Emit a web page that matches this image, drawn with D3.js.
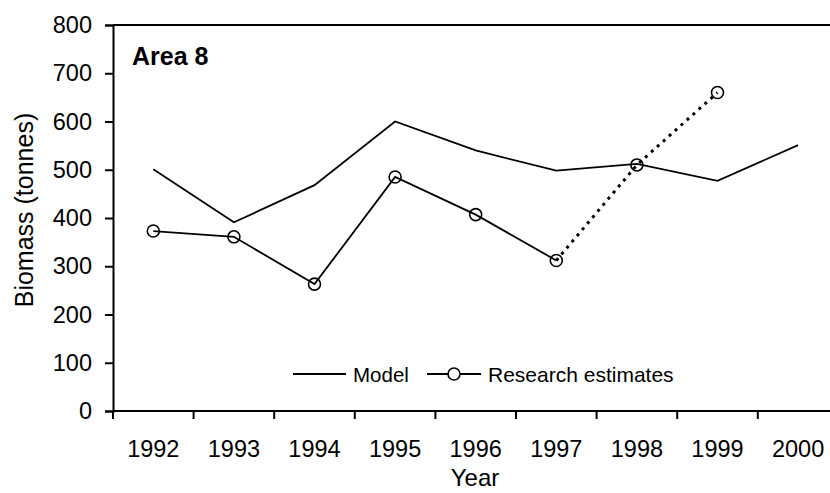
<!DOCTYPE html>
<html>
  <head>
    <script src="https://d3js.org/d3.v7.min.js"></script>
    <title>Area 8 biomass</title>
    <style>
      body { margin: 0; background: #fff; }
      text { font-family: "Liberation Sans", Arial, sans-serif; fill: #000; }
    </style>
  </head>
  <body>
    <div id="container"></div>
    <script>
    var years = ['1992','1993','1994','1995','1996','1997','1998','1999','2000'];
    var modelValues = [501, 391, 468, 600, 540, 498, 512, 477, 551];
    var researchYears = ['1992','1993','1994','1995','1996','1997','1998','1999'];
    var researchValues = [373, 361, 263, 485, 407, 312, 510, 660];
    var yTicks = [0, 100, 200, 300, 400, 500, 600, 700, 800];

    const w = 830, h = 493;
    const padLeft = 113, padTop = 25, axisY = 411;

    const svg = d3.select('#container').append('svg')
      .attr('width', w).attr('height', h);

    const xScale = d3.scaleBand()
      .domain(years)
      .range([padLeft, padLeft + 80.6 * years.length]);

    const yScale = d3.scaleLinear()
      .domain([0, 800])
      .range([axisY, padTop]);

    const cx = d => xScale(d) + xScale.bandwidth() / 2;

    // top frame line
    svg.append('line')
      .attr('x1', padLeft).attr('x2', w)
      .attr('y1', yScale(800)).attr('y2', yScale(800))
      .attr('stroke', '#000').attr('stroke-width', 2);

    const yAxis = d3.axisLeft(yScale).tickValues(yTicks).tickSize(8).tickPadding(13);
    const gy = svg.append('g').attr('transform', `translate(${padLeft},0)`).call(yAxis);
    gy.select('.domain').attr('stroke-width', 2);
    gy.selectAll('.tick line').attr('stroke-width', 2);
    gy.selectAll('text').style('font-size', '23.5px').attr('font-family', null);

    // x axis: ticks sit between categories
    svg.append('line')
      .attr('x1', padLeft).attr('x2', w)
      .attr('y1', axisY).attr('y2', axisY)
      .attr('stroke', '#000').attr('stroke-width', 2);
    svg.selectAll('.xtick')
      .data(years)
      .enter().append('line')
      .attr('class', 'xtick')
      .attr('x1', d => xScale(d)).attr('x2', d => xScale(d))
      .attr('y1', axisY).attr('y2', axisY + 8)
      .attr('stroke', '#000').attr('stroke-width', 2);
    svg.selectAll('.xlab')
      .data(years)
      .enter().append('text')
      .attr('class', 'xlab')
      .attr('x', d => cx(d)).attr('y', 457)
      .attr('text-anchor', 'middle')
      .style('font-size', '23.5px')
      .text(d => d);

    svg.append('text')
      .attr('x', 475).attr('y', 486)
      .attr('text-anchor', 'middle')
      .style('font-size', '24px')
      .text('Year');

    svg.append('text')
      .attr('transform', 'translate(33,210) rotate(-90)')
      .attr('text-anchor', 'middle')
      .style('font-size', '25px')
      .text('Biomass (tonnes)');

    svg.append('text')
      .attr('x', 132).attr('y', 65)
      .style('font-size', '25px').style('font-weight', 'bold')
      .text('Area 8');

    const line = d3.line().x(d => cx(d[0])).y(d => yScale(d[1]));

    const model = years.map((y, i) => [y, modelValues[i]]);
    svg.append('path')
      .attr('d', line(model))
      .attr('fill', 'none').attr('stroke', '#000').attr('stroke-width', 1.8);

    const research = researchYears.map((y, i) => [y, researchValues[i]]);
    svg.append('path')
      .attr('d', line(research.slice(0, 6)))
      .attr('fill', 'none').attr('stroke', '#000').attr('stroke-width', 1.8);
    svg.append('path')
      .attr('d', line(research.slice(5)))
      .attr('fill', 'none').attr('stroke', '#000').attr('stroke-width', 3)
      .attr('stroke-dasharray', '3,5');

    svg.selectAll('.pt')
      .data(research)
      .enter().append('circle')
      .attr('class', 'pt')
      .attr('cx', d => cx(d[0])).attr('cy', d => yScale(d[1]))
      .attr('r', 6)
      .attr('fill', 'none').attr('stroke', '#000').attr('stroke-width', 1.6);

    // legend
    const ly = 374;
    svg.append('line').attr('x1', 293).attr('x2', 346).attr('y1', ly).attr('y2', ly)
      .attr('stroke', '#000').attr('stroke-width', 1.8);
    svg.append('text').attr('x', 353).attr('y', 382).style('font-size', '20.5px').text('Model');
    svg.append('line').attr('x1', 427).attr('x2', 481).attr('y1', ly).attr('y2', ly)
      .attr('stroke', '#000').attr('stroke-width', 1.8);
    svg.append('circle').attr('cx', 454).attr('cy', ly).attr('r', 6)
      .attr('fill', '#fff').attr('stroke', '#000').attr('stroke-width', 1.6);
    svg.append('text').attr('x', 488).attr('y', 382).style('font-size', '21px').text('Research estimates');
    </script>
  </body>
</html>
